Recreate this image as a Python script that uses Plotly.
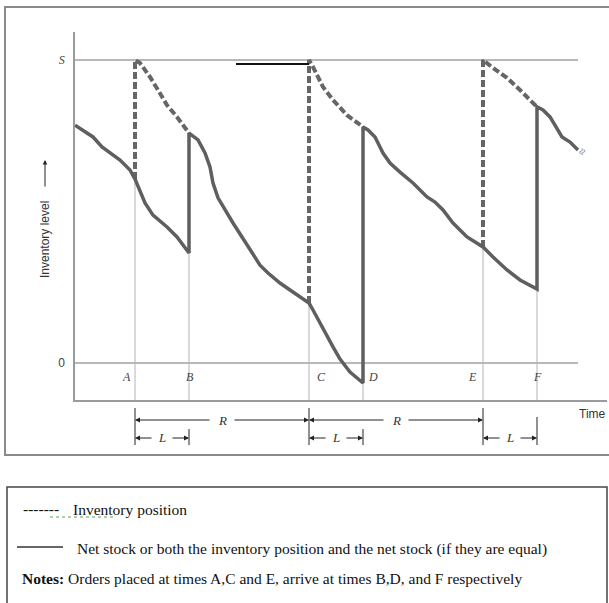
import plotly.graph_objects as go

# ---------------- data ----------------
S_LEVEL = 100
event_names = ["A", "B", "C", "D", "E", "F"]
event_times = [60, 114, 234, 288, 408, 462]
order_times = [60, 234, 408]      # A, C, E
arrive_times = [114, 288, 462]    # B, D, F

# net stock (solid)
net_t = [0, 18, 27, 35, 45, 55, 60, 70, 78, 92, 102, 114,
         114, 123, 130, 135, 138, 143, 150, 158, 167, 177, 185, 193, 205, 215, 225, 234,
         238, 245, 252, 258, 265, 275, 288,
         288, 293, 300, 308, 315, 325, 338, 352, 360, 368, 378, 392, 408, 418, 432, 445, 462,
         462, 468, 475, 482, 487, 495, 503]
net_v = [78.5, 74.6, 71.3, 69.3, 67.0, 63.7, 60.7, 52.8, 48.8, 44.9, 41.6, 36.3,
         75.9, 73.6, 69.3, 64.7, 59.4, 54.5, 50.5, 46.2, 41.6, 36.3, 32.3, 29.7, 26.4, 24.1, 21.8, 19.8,
         17.5, 13.2, 8.6, 5.3, 1.3, -3.0, -6.6,
         77.9, 76.9, 74.6, 69.3, 66.0, 63.0, 59.4, 54.8, 53.1, 50.5, 46.2, 41.6, 38.3, 35.0, 30.7, 27.4, 24.4,
         84.5, 83.5, 81.2, 77.6, 74.6, 72.9, 70.3]

# inventory position (dashed) where it differs from net stock
pos_t = [60, 60, 65, 75, 83, 92, 102, 114, None,
         234, 234, 238, 248, 258, 272, 288, None,
         408, 408, 418, 432, 445, 458, 462]
pos_v = [60.7, 100, 99.0, 94.4, 90.1, 85.1, 81.2, 75.9, None,
         19.8, 100, 97.7, 91.1, 86.8, 81.8, 77.9, None,
         38.3, 100, 97.4, 94.1, 90.1, 85.8, 84.5]

# short black bar near the top
bar_t = [161, 234]
bar_v = [98.7, 98.7]

x_end = 503            # end of the S and 0 reference lines
y_tick_vals = [0, S_LEVEL]
y_tick_text = ["0", "<span style='font-family:Liberation Serif'><i>S</i></span>"]

# ---------------- layout helpers ----------------
W, H = 609, 603
ML, MR, MT, MB = 75, 2, 32, 203
PW, PH = W - ML - MR, H - MT - MB
Y_MIN, Y_MAX = -12.21, 109.24
X_MIN, X_MAX = 0, PW


def py(ypx):   # page pixel -> paper y
    return (MT + PH - ypx) / PH


def px(xpx):   # page pixel -> paper x
    return (xpx - ML) / PW


GRAY = "#5f5f5f"
fig = go.Figure()

# reference lines S and 0
for lv in [S_LEVEL, 0]:
    fig.add_trace(go.Scatter(x=[0, x_end], y=[lv, lv], mode="lines",
                             line=dict(color="#a0a0a0", width=1.5), hoverinfo="skip"))

# thin vertical guides at event times
for t in event_times:
    lows = [v for tt, v in zip(net_t, net_v) if tt == t]
    fig.add_trace(go.Scatter(x=[t, t], y=[min(lows), Y_MIN], mode="lines",
                             line=dict(color="#b4b4b4", width=1), hoverinfo="skip"))

fig.add_trace(go.Scatter(x=pos_t, y=pos_v, mode="lines", connectgaps=False,
                         line=dict(color="#666666", width=4, dash="7px,3px"), hoverinfo="skip"))
fig.add_trace(go.Scatter(x=net_t, y=net_v, mode="lines",
                         line=dict(color=GRAY, width=3.5), hoverinfo="skip"))
fig.add_trace(go.Scatter(x=bar_t, y=bar_v, mode="lines",
                         line=dict(color="#111111", width=2), hoverinfo="skip"))

shapes = []
# outer frame of the figure
shapes.append(dict(type="rect", xref="paper", yref="paper",
                   x0=px(5), x1=px(611), y0=py(455), y1=py(7),
                   line=dict(color="#8a8a8a", width=2)))
# legend / notes box
shapes.append(dict(type="rect", xref="paper", yref="paper",
                   x0=px(7), x1=px(607), y0=py(606), y1=py(487),
                   line=dict(color="#444444", width=1.5)))
# legend samples
shapes.append(dict(type="line", xref="paper", yref="paper",
                   x0=px(17), x1=px(63), y0=py(547), y1=py(547),
                   line=dict(color="#666666", width=2)))
shapes.append(dict(type="line", xref="paper", yref="paper",
                   x0=px(50), x1=px(113), y0=py(517), y1=py(517),
                   line=dict(color="#5aa05a", width=1, dash="dot")))

# dimension ticks below the axis
for t in order_times:
    shapes.append(dict(type="line", xref="x", yref="paper", x0=t, x1=t,
                       y0=py(408), y1=py(445), line=dict(color="#222", width=1)))
for t, top in zip(arrive_times, [429, 429, 417]):
    shapes.append(dict(type="line", xref="x", yref="paper", x0=t, x1=t,
                       y0=py(top), y1=py(445), line=dict(color="#222", width=1)))

ann = []
# event letters
label_shift = [-9, 1, 12, 10, -11, 0]
for name, t, sh in zip(event_names, event_times, label_shift):
    ann.append(dict(x=t, y=py(377), xref="x", yref="paper", text="<i>" + name + "</i>",
                    showarrow=False, xshift=sh, xanchor="center", yanchor="middle",
                    font=dict(family="Liberation Serif", size=12, color="#444")))


def dim(t0, t1, ypx, label, gap):
    mid = (t0 + t1) / 2
    out = []
    for head, tail in [(t0, mid - gap), (t1, mid + gap)]:
        out.append(dict(x=head, y=py(ypx), xref="x", yref="paper", ax=tail, ay=0,
                        axref="x", ayref="pixel", text="", showarrow=True,
                        arrowhead=2, arrowsize=1, arrowwidth=1, arrowcolor="#222"))
    out.append(dict(x=mid, y=py(ypx), xref="x", yref="paper", text=label, showarrow=False,
                    xanchor="center", yanchor="middle",
                    font=dict(family="Liberation Serif", size=13, color="#333")))
    return out


ann += dim(order_times[0], order_times[1], 420, "<i>R</i>", 11)
ann += dim(order_times[1], order_times[2], 420, "<i>R</i>", 11)
for o, a in zip(order_times, arrive_times):
    ann += dim(o, a, 438, "<i>L</i>", 9)

ann.append(dict(x=px(592), y=py(414), xref="paper", yref="paper", text="Time", showarrow=False,
                xanchor="center", yanchor="middle",
                font=dict(family="Liberation Sans", size=12, color="#333")))
ann.append(dict(x=px(45), y=py(240), xref="paper", yref="paper", text="Inventory level",
                textangle=-90, showarrow=False, xanchor="center", yanchor="middle",
                font=dict(family="Liberation Sans", size=12, color="#333")))
ann.append(dict(x=px(45), y=py(160), xref="paper", yref="paper", ax=0, ay=28,
                axref="pixel", ayref="pixel", text="", showarrow=True, arrowhead=2,
                arrowsize=0.9, arrowwidth=1, arrowcolor="#222"))
ann.append(dict(x=net_t[-1], y=net_v[-1], xref="x", yref="y", text="≈", textangle=-60,
                showarrow=False, xshift=4, yshift=-2, xanchor="center", yanchor="middle",
                font=dict(family="Liberation Serif", size=12, color="#777")))

# legend / notes text
serif = dict(family="Liberation Serif", size=15.5, color="#111")
ann.append(dict(x=px(21), y=py(508), xref="paper", yref="paper", xanchor="left",
                yanchor="middle", text="-------", showarrow=False, font=serif))
ann.append(dict(x=px(71), y=py(509), xref="paper", yref="paper", xanchor="left",
                yanchor="middle", text="Inventory position", showarrow=False, font=serif))
ann.append(dict(x=px(75), y=py(549), xref="paper", yref="paper", xanchor="left",
                yanchor="middle",
                text="Net stock or both the inventory position and the net stock (if they are equal)",
                showarrow=False, font=serif))
ann.append(dict(x=px(20), y=py(578), xref="paper", yref="paper", xanchor="left",
                yanchor="middle",
                text="<b>Notes:</b> Orders placed at times A,C and E, arrive at times B,D, and F respectively",
                showarrow=False, font=serif))

fig.update_layout(
    width=W, height=H, margin=dict(l=ML, r=MR, t=MT, b=MB, pad=0),
    paper_bgcolor="white", plot_bgcolor="white", showlegend=False,
    shapes=shapes, annotations=ann,
    xaxis=dict(range=[X_MIN, X_MAX], showgrid=False, zeroline=False, showticklabels=False,
               ticks="", showline=True, linecolor="#9a9a9a", linewidth=1.5, fixedrange=True),
    yaxis=dict(range=[Y_MIN, Y_MAX], showgrid=False, zeroline=False, tickvals=y_tick_vals,
               ticktext=y_tick_text, ticks="", ticklabelstandoff=6,
               tickfont=dict(family="Liberation Sans", size=12, color="#444"),
               showline=True, linecolor="#9a9a9a", linewidth=1.5, fixedrange=True),
)

fig.write_html("out.html", config={"displayModeBar": False},
               post_script="document.body.style.margin='0';document.body.style.overflow='hidden';")
